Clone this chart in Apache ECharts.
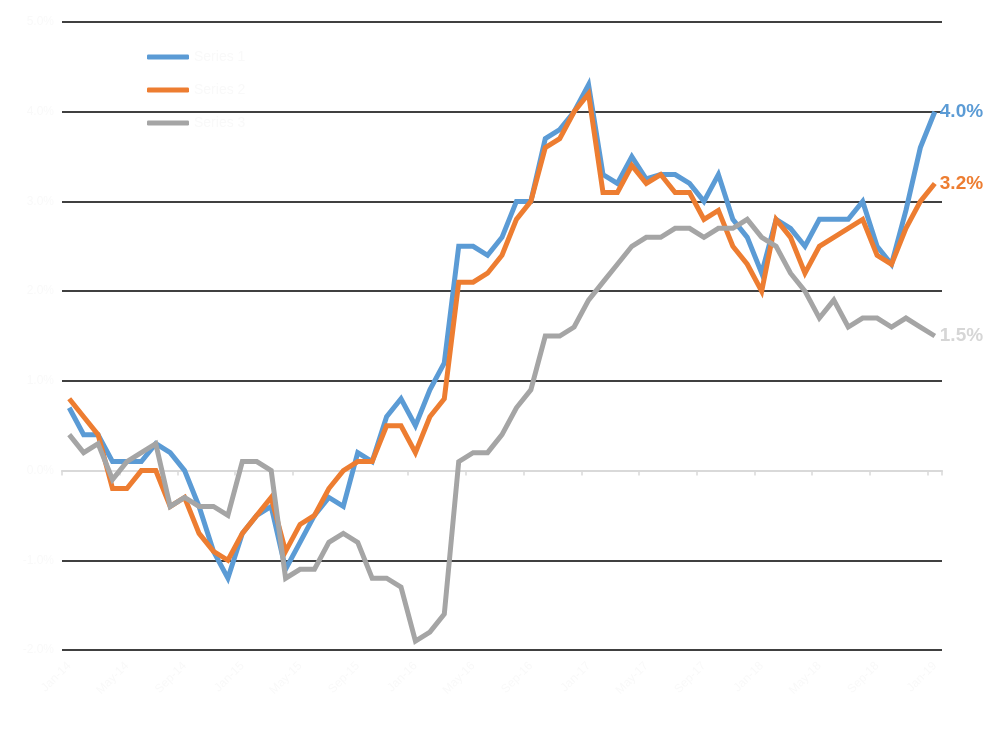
<!DOCTYPE html>
<html>
<head>
<meta charset="utf-8">
<script src="https://cdn.jsdelivr.net/npm/echarts@6/dist/echarts.min.js"></script>
<style>
  html, body { margin: 0; padding: 0; background: #fff; }
  #chart { width: 992px; height: 749px; }
</style>
</head>
<body>
<div id="chart"></div>
<script>
const months = [
  'Jan-14', 'Feb-14', 'Mar-14', 'Apr-14', 'May-14', 'Jun-14', 'Jul-14', 'Aug-14', 'Sep-14', 'Oct-14', 'Nov-14', 'Dec-14',
  'Jan-15', 'Feb-15', 'Mar-15', 'Apr-15', 'May-15', 'Jun-15', 'Jul-15', 'Aug-15', 'Sep-15', 'Oct-15', 'Nov-15', 'Dec-15',
  'Jan-16', 'Feb-16', 'Mar-16', 'Apr-16', 'May-16', 'Jun-16', 'Jul-16', 'Aug-16', 'Sep-16', 'Oct-16', 'Nov-16', 'Dec-16',
  'Jan-17', 'Feb-17', 'Mar-17', 'Apr-17', 'May-17', 'Jun-17', 'Jul-17', 'Aug-17', 'Sep-17', 'Oct-17', 'Nov-17', 'Dec-17',
  'Jan-18', 'Feb-18', 'Mar-18', 'Apr-18', 'May-18', 'Jun-18', 'Jul-18', 'Aug-18', 'Sep-18', 'Oct-18', 'Nov-18', 'Dec-18',
  'Jan-19'
]
const seriesNames = ['Series 1', 'Series 2', 'Series 3']
const blueValues = [
  0.7, 0.4, 0.4, 0.1, 0.1, 0.1, 0.3, 0.2, 0.0, -0.4,
  -0.9, -1.2, -0.7, -0.5, -0.4, -1.1, -0.8, -0.5, -0.3, -0.4,
  0.2, 0.1, 0.6, 0.8, 0.5, 0.9, 1.2, 2.5, 2.5, 2.4,
  2.6, 3.0, 3.0, 3.7, 3.8, 4.0, 4.3, 3.3, 3.2, 3.5,
  3.25, 3.3, 3.3, 3.2, 3.0, 3.3, 2.8, 2.6, 2.2, 2.8,
  2.7, 2.5, 2.8, 2.8, 2.8, 3.0, 2.5, 2.3, 2.9, 3.6, 4.0
]
const orangeValues = [
  0.8, 0.6, 0.4, -0.2, -0.2, 0.0, 0.0, -0.4, -0.3, -0.7,
  -0.9, -1.0, -0.7, -0.5, -0.3, -0.9, -0.6, -0.5, -0.2, 0.0,
  0.1, 0.1, 0.5, 0.5, 0.2, 0.6, 0.8, 2.1, 2.1, 2.2,
  2.4, 2.8, 3.0, 3.6, 3.7, 4.0, 4.2, 3.1, 3.1, 3.4,
  3.2, 3.3, 3.1, 3.1, 2.8, 2.9, 2.5, 2.3, 2.0, 2.8,
  2.6, 2.2, 2.5, 2.6, 2.7, 2.8, 2.4, 2.3, 2.7, 3.0, 3.2
]
const grayValues = [
  0.4, 0.2, 0.3, -0.1, 0.1, 0.2, 0.3, -0.4, -0.3, -0.4,
  -0.4, -0.5, 0.1, 0.1, 0.0, -1.2, -1.1, -1.1, -0.8, -0.7,
  -0.8, -1.2, -1.2, -1.3, -1.9, -1.8, -1.6, 0.1, 0.2, 0.2,
  0.4, 0.7, 0.9, 1.5, 1.5, 1.6, 1.9, 2.1, 2.3, 2.5,
  2.6, 2.6, 2.7, 2.7, 2.6, 2.7, 2.7, 2.8, 2.6, 2.5,
  2.2, 2.0, 1.7, 1.9, 1.6, 1.7, 1.7, 1.6, 1.7, 1.6, 1.5
]

const colors = ['#5b9bd5', '#ed7d31', '#a5a5a5']
const endColors = ['#5b9bd5', '#ed7d31', '#d6d6d6']
const faint = '#f9f9f9'

function makeSeries(name, data, idx) {
  return {
    name: name,
    type: 'line',
    data: data,
    showSymbol: false,
    xAxisIndex: 1,
    lineStyle: { width: 5, color: colors[idx], join: 'miter' },
    itemStyle: { color: colors[idx] },
    endLabel: {
      show: true,
      distance: 5,
      color: endColors[idx],
      fontFamily: 'Liberation Sans',
      fontWeight: 'bold',
      fontSize: 19,
      formatter: p => p.value.toFixed(1) + '%'
    }
  }
}

const chart = echarts.init(document.getElementById('chart'))
chart.setOption({
  animation: false,
  color: colors,
  grid: { left: 62, right: 50, top: 22, bottom: 99 },
  legend: {
    orient: 'vertical',
    left: 142,
    top: 45,
    icon: 'roundRect',
    itemWidth: 42,
    itemHeight: 5,
    itemGap: 19,
    textStyle: { color: faint, fontSize: 14, fontFamily: 'Liberation Sans' },
    data: seriesNames
  },
  xAxis: [
    {
      type: 'category',
      data: months,
      position: 'bottom',
      axisLine: { show: false, onZero: false },
      axisTick: { show: false },
      axisLabel: { color: faint, rotate: 45, interval: 3, fontSize: 12, margin: 14 }
    },
    {
      type: 'category',
      data: months,
      position: 'top',
      axisLine: { onZero: true, lineStyle: { color: '#d9d9d9', width: 2 } },
      axisTick: { show: true, inside: true, interval: 3, length: 5, lineStyle: { color: '#d9d9d9', width: 1.5 } },
      axisLabel: { show: false }
    }
  ],
  yAxis: {
    type: 'value',
    min: -2,
    max: 5,
    interval: 1,
    axisLine: { show: false },
    axisTick: { show: false },
    axisLabel: { color: faint, formatter: v => v.toFixed(1) + '%' },
    splitLine: {
      lineStyle: {
        width: 2,
        color: ['#404040', '#404040', '#d9d9d9', '#404040', '#404040', '#404040', '#404040', '#404040']
      }
    }
  },
  series: [
    makeSeries(seriesNames[0], blueValues, 0),
    makeSeries(seriesNames[1], orangeValues, 1),
    makeSeries(seriesNames[2], grayValues, 2)
  ]
})
</script>
</body>
</html>
